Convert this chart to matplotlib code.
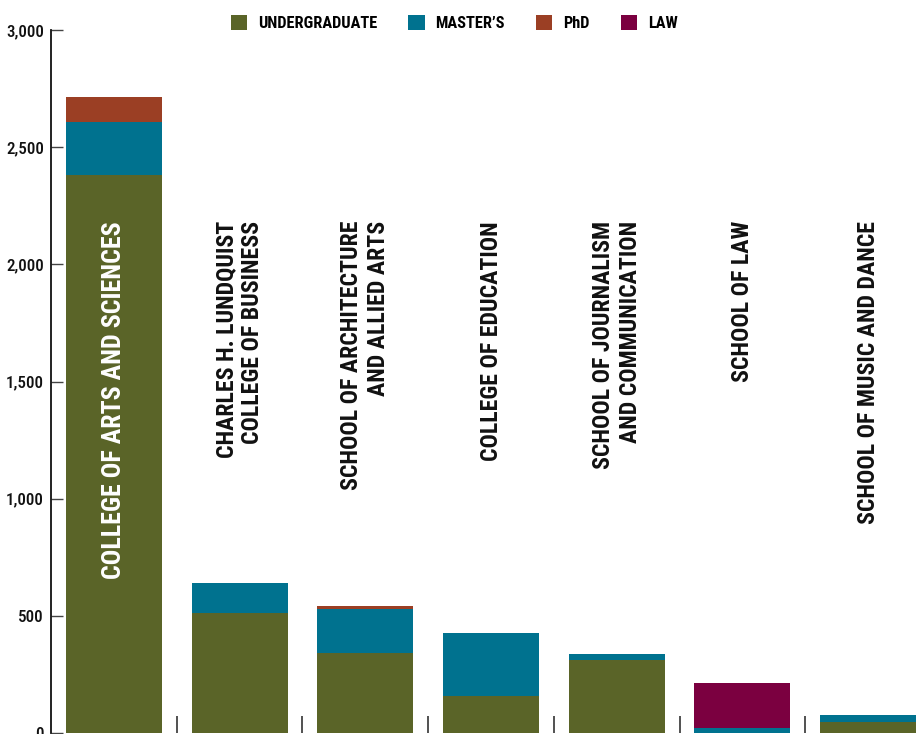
import matplotlib
matplotlib.use("Agg")
import matplotlib.pyplot as plt
from matplotlib.patches import Patch
from matplotlib import font_manager as fm
import numpy as np
import glob, os

categories = [
    "COLLEGE OF ARTS AND SCIENCES",
    "CHARLES H. LUNDQUIST\nCOLLEGE OF BUSINESS",
    "SCHOOL OF ARCHITECTURE\nAND ALLIED ARTS",
    "COLLEGE OF EDUCATION",
    "SCHOOL OF JOURNALISM\nAND COMMUNICATION",
    "SCHOOL OF LAW",
    "SCHOOL OF MUSIC AND DANCE",
]
undergraduate = [2380, 510, 340, 160, 312, 0, 48]
masters = [226, 130, 190, 268, 26, 23, 29]
phd = [107, 0, 11, 0, 0, 0, 0]
law = [0, 0, 0, 0, 0, 189, 0]
series_names = ["UNDERGRADUATE", "MASTER\u2019S", "PhD", "LAW"]
yticks = [0, 500, 1000, 1500, 2000, 2500, 3000]

colors = ["#5A6428", "#00728F", "#9B3F24", "#7B0040"]

# ---- find a condensed font file ----
files = set(f.fname for f in fm.fontManager.ttflist)
for d in ["/usr/share/fonts", "/usr/local/share/fonts", os.path.expanduser("~/.fonts")]:
    files.update(glob.glob(os.path.join(d, "**", "*.ttf"), recursive=True))
    files.update(glob.glob(os.path.join(d, "**", "*.otf"), recursive=True))
bynames = {os.path.basename(f).lower(): f for f in files}


def pick(prefs):
    for p in prefs:
        for b, f in bynames.items():
            if b.startswith(p):
                return f
    return None


bold_file = pick(["liberationsansnarrow-bold.", "notosans-condensedbold.", "notosans-extracondensedbold.",
                  "robotocondensed-bold.", "dejavusanscondensed-bold."])
med_file = pick(["liberationsansnarrow-regular.", "notosans-condensedmedium.", "robotocondensed-medium.",
                 "notosans-condensed.", "robotocondensed-regular.", "dejavusanscondensed."])


def fp(bold, size):
    f = bold_file if bold else med_file
    if f:
        return fm.FontProperties(fname=f, size=size)
    return fm.FontProperties(family="DejaVu Sans", weight="bold" if bold else "normal",
                             stretch="condensed", size=size)


fig = plt.figure(figsize=(9.24, 7.34), dpi=100)
renderer = fig.canvas.get_renderer()


def fit_size(text, bold, target_px, base=14.0):
    t = fig.text(0, 0, text, fontproperties=fp(bold, base))
    w = t.get_window_extent(renderer).width
    t.remove()
    return base * target_px / w


ax = fig.add_axes([51 / 924, 1 / 734, 880 / 924, 703 / 734])

x = np.arange(len(categories))
width = 0.764
bottom = np.zeros(len(categories))
for vals, col in zip([undergraduate, masters, phd, law], colors):
    ax.bar(x, vals, width, bottom=bottom, color=col, linewidth=0)
    bottom += np.array(vals)

ax.set_xlim(-0.5, 6.5)
ax.set_ylim(0, 3000)

for s in ["top", "right", "bottom"]:
    ax.spines[s].set_visible(False)
ax.spines["left"].set_linewidth(1.3)
ax.spines["left"].set_color("#111111")

tick_size = fit_size("3,000", False, 38)
ax.set_yticks(yticks)
ax.set_yticklabels([f"{v:,}" for v in yticks], fontproperties=fp(False, tick_size), color="#111111")
ax.tick_params(axis="y", direction="in", length=8.6, width=1.0, color="#444444", pad=5)

ax.set_xticks(x[:-1] + 0.5)
ax.set_xticklabels([])
ax.tick_params(axis="x", direction="in", length=12.2, width=1.2, color="#333333")

size_first = fit_size(categories[0], True, 358)
size_rest = fit_size(categories[6], True, 303)
label_top = 2185
for i, cat in enumerate(categories):
    ax.text(i, label_top, cat, rotation=90, rotation_mode="anchor",
            ha="right", va="center", multialignment="right",
            fontproperties=fp(True, size_first if i == 0 else size_rest),
            color="white" if i == 0 else "#111111", linespacing=1.2)

leg_size = fit_size("UNDERGRADUATE", True, 120)
handles = [Patch(facecolor=c, edgecolor="none") for c in colors]
fig.legend(handles, series_names, loc="center", bbox_to_anchor=(454 / 924, 1 - 23 / 734),
           ncol=4, frameon=False, prop=fp(True, leg_size),
           handlelength=1.0, handleheight=1.0, handletextpad=0.65, columnspacing=1.9,
           borderaxespad=0, borderpad=0)

fig.savefig("out.png", dpi=100)
